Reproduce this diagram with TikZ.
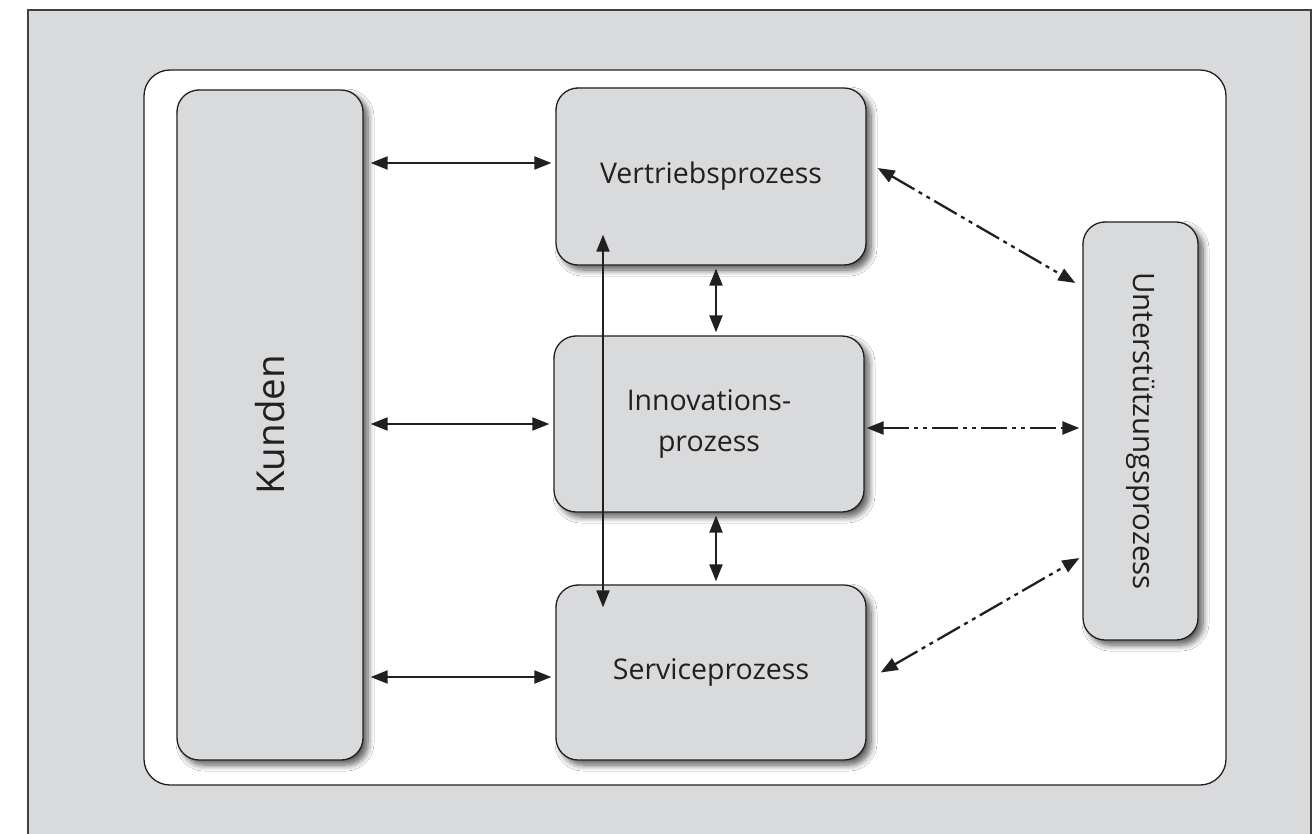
\documentclass[tikz,border=0pt]{standalone}
\usepackage{fontspec}
\setmainfont{Open Sans}
\usetikzlibrary{arrows.meta,shadows.blur,calc}
\definecolor{panelgray}{HTML}{D9DADC}
\definecolor{inkdark}{HTML}{231F20}
\tikzset{
  procbox/.style={draw=inkdark, line width=1.3pt, fill=panelgray,
    rounded corners=22pt, inner sep=0pt, text=inkdark,
    blur shadow={shadow xshift=5pt, shadow yshift=-5pt,
      shadow blur radius=6pt, shadow opacity=65, shadow blur steps=8}},
  solidarr/.style={line width=2pt, draw=inkdark,
    {Triangle[length=17pt,width=13pt]}-{Triangle[length=17pt,width=13pt]}},
  dasharr/.style={line width=2.3pt, draw=inkdark,
    dash pattern=on 26pt off 5pt on 4pt off 5pt on 4pt off 5pt,
    {Triangle[length=17pt,width=13pt]}-{Triangle[length=17pt,width=13pt]}},
  lbl/.style={font=\fontsize{28.5}{41}\selectfont, align=center}
}
\begin{document}
\begin{tikzpicture}[x=1pt,y=-1pt]
  \useasboundingbox (0,0) rectangle (1316,834);
  % grey panel with its frame
  \fill[panelgray] (28,10) rectangle (1311,840);
  \draw[line width=1.4pt, draw=black!75] (28,840) -- (28,10) -- (1311,10) -- (1311,840);
  % white working area
  \node[draw=inkdark, line width=1.3pt, fill=white, rounded corners=26pt,
        minimum width=1082pt, minimum height=715pt] (area) at (685,427.5) {};

  % process boxes
  \node[procbox, minimum width=186pt, minimum height=670pt] (kunden) at (270,425)
    {\rotatebox{90}{\fontsize{38.5}{44}\selectfont Kunden}};
  \node[procbox, minimum width=310pt, minimum height=177pt] (vert) at (711,176.5)
    [lbl] {Vertriebsprozess};
  \node[procbox, minimum width=310pt, minimum height=176pt] (innov) at (709,424)
    [lbl] {Innovations-\\prozess};
  \node[procbox, minimum width=310pt, minimum height=175pt] (serv) at (711,672.5)
    [lbl] {Serviceprozess};
  \node[procbox, minimum width=115pt, minimum height=418pt] (unter) at (1140.5,431)
    {\rotatebox{-90}{\fontsize{29.5}{34}\selectfont Unterstützungsprozess}};

  % customer links
  \draw[solidarr, shorten <=7pt, shorten >=4pt] (kunden.east |- 0,163) -- (vert.west |- 0,163);
  \draw[solidarr, shorten <=7pt, shorten >=4pt] (kunden.east |- 0,424) -- (innov.west |- 0,424);
  \draw[solidarr, shorten <=7pt, shorten >=4pt] (kunden.east |- 0,677) -- (serv.west |- 0,677);

  % links between the core processes
  \draw[solidarr, shorten <=3pt, shorten >=3pt] (716,0 |- vert.south) -- (716,0 |- innov.north);
  \draw[solidarr, shorten <=3pt, shorten >=3pt] (716,0 |- innov.south) -- (716,0 |- serv.north);
  \draw[solidarr] ([yshift=31pt]603,0 |- vert.south) -- ([yshift=-23pt]603,0 |- serv.north);

  % links to the support process
  \draw[dasharr] ($(vert.east)+(11,-8.5)$) -- ($(unter.west)+(-7,-148)$);
  \draw[dasharr, shorten <=2pt, shorten >=3pt] (innov.east |- 0,428) -- (unter.west |- 0,428);
  \draw[dasharr] ($(serv.east)+(14,0)$) -- ($(unter.west)+(-3,127)$);
\end{tikzpicture}
\end{document}
